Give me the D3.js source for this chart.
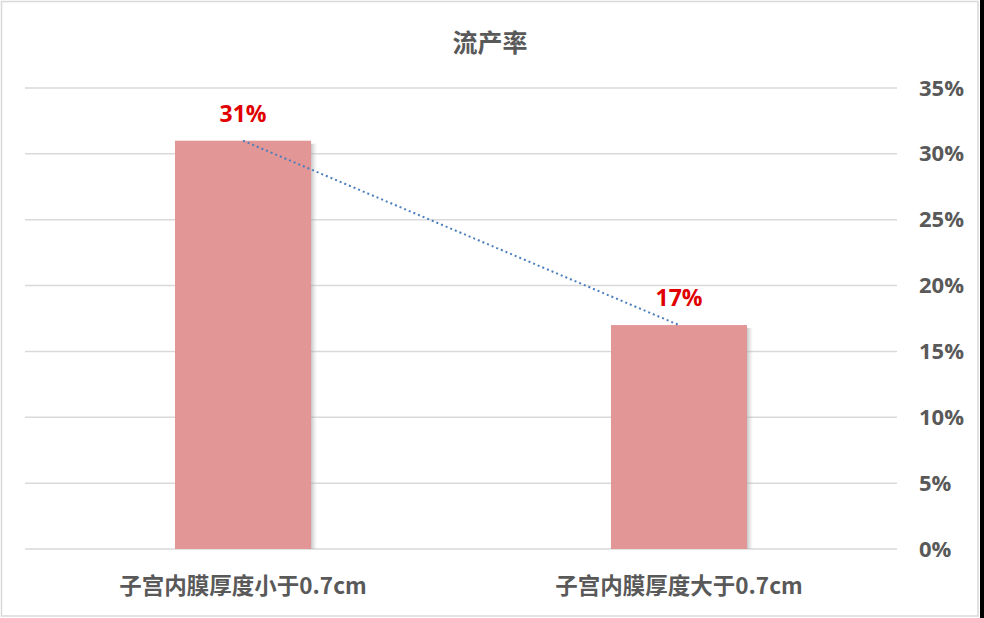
<!DOCTYPE html>
<html>
<head>
<meta charset="utf-8">
<script src="https://cdn.jsdelivr.net/npm/d3@7"></script>
<style>
  html, body { margin: 0; padding: 0; background: #000; }
  svg { display: block; }
  text { font-family: "Noto Sans CJK SC", "Open Sans", sans-serif; font-weight: bold; }
</style>
</head>
<body>
<svg width="984" height="618"></svg>
<script>
// chart data
let categories = ["子宫内膜厚度小于0.7cm", "子宫内膜厚度大于0.7cm"];
let rates = [0.31, 0.17];
let rateLabels = ["31%", "17%"];
let yTicks = [0, 0.05, 0.10, 0.15, 0.20, 0.25, 0.30, 0.35];
let title = "流产率";

let svg = d3.select("svg");
let margin = { top: 88, right: 87, bottom: 69, left: 25 };
let width = 984, height = 618;

// white chart area with light border, dark strip on the far right
svg.append("rect").attr("x", 0).attr("y", 0).attr("width", 980).attr("height", 618).attr("fill", "#fff");
svg.append("rect").attr("x", 1.5).attr("y", 1.5).attr("width", 976.5).attr("height", 614.5)
  .attr("fill", "none").attr("stroke", "#D9D9D9").attr("stroke-width", 1.5);

let x = d3.scaleBand()
  .domain(categories)
  .range([margin.left, width - margin.right])
  .paddingInner(0.688)
  .paddingOuter(0.344);

let y = d3.scaleLinear()
  .domain([0, 0.35])
  .range([height - margin.bottom, margin.top]);

// gridlines
svg.append("g")
  .selectAll("line")
  .data(yTicks)
  .enter().append("line")
  .attr("x1", margin.left)
  .attr("x2", width - margin.right)
  .attr("y1", d => y(d))
  .attr("y2", d => y(d))
  .attr("stroke", "#D9D9D9")
  .attr("stroke-width", 1.5);

// right axis labels
let yAxis = d3.axisRight(y).tickValues(yTicks).tickFormat(d3.format(".0%")).tickSize(0).tickPadding(0);
let ag = svg.append("g")
  .attr("transform", "translate(" + 919 + ",0)")
  .call(yAxis);
ag.select(".domain").remove();
ag.selectAll("text")
  .attr("font-size", "22px")
  .attr("fill", "#595959")
  .style("font-family", "'Open Sans', 'Noto Sans CJK SC', sans-serif")
  .style("font-weight", "bold");

// bar shadow gradient
let defs = svg.append("defs");
let sg = defs.append("linearGradient").attr("id", "shadow").attr("x1", 0).attr("x2", 1).attr("y1", 0).attr("y2", 0);
sg.append("stop").attr("offset", "0%").attr("stop-color", "#9a9a9a").attr("stop-opacity", 0.55);
sg.append("stop").attr("offset", "100%").attr("stop-color", "#bbbbbb").attr("stop-opacity", 0);

// shadows
svg.append("g")
  .selectAll("rect")
  .data(rates)
  .enter().append("rect")
  .attr("x", (d, i) => x(categories[i]) + x.bandwidth())
  .attr("y", d => y(d) + 3)
  .attr("width", 6)
  .attr("height", d => y(0) - y(d) - 3)
  .attr("fill", "url(#shadow)");

// bars
svg.append("g")
  .selectAll("rect")
  .data(rates)
  .enter().append("rect")
  .attr("x", (d, i) => x(categories[i]))
  .attr("y", d => y(d))
  .attr("width", x.bandwidth())
  .attr("height", d => y(0) - y(d))
  .attr("fill", "#E39696");

// dotted trend line
let line = d3.line()
  .x((d, i) => x(categories[i]) + x.bandwidth() / 2)
  .y(d => y(d));
svg.append("path")
  .datum(rates)
  .attr("d", line)
  .attr("fill", "none")
  .attr("stroke", "#4A7EBB")
  .attr("stroke-width", 2)
  .attr("stroke-dasharray", "2,3");

// value labels
svg.append("g")
  .selectAll("text")
  .data(rates)
  .enter().append("text")
  .attr("x", (d, i) => x(categories[i]) + x.bandwidth() / 2)
  .attr("y", d => y(d) - 19)
  .attr("text-anchor", "middle")
  .attr("font-size", "23px")
  .attr("fill", "#E00000")
  .style("font-family", "'Open Sans', 'Noto Sans CJK SC', sans-serif")
  .text((d, i) => rateLabels[i]);

// category labels
svg.append("g")
  .selectAll("text")
  .data(categories)
  .enter().append("text")
  .attr("x", d => x(d) + x.bandwidth() / 2)
  .attr("y", 594)
  .attr("text-anchor", "middle")
  .attr("font-size", "22.5px")
  .attr("fill", "#595959")
  .text(d => d);

// title
svg.append("text")
  .attr("x", 490)
  .attr("y", 52)
  .attr("text-anchor", "middle")
  .attr("font-size", "25px")
  .attr("fill", "#595959")
  .text(title);
</script>
</body>
</html>
